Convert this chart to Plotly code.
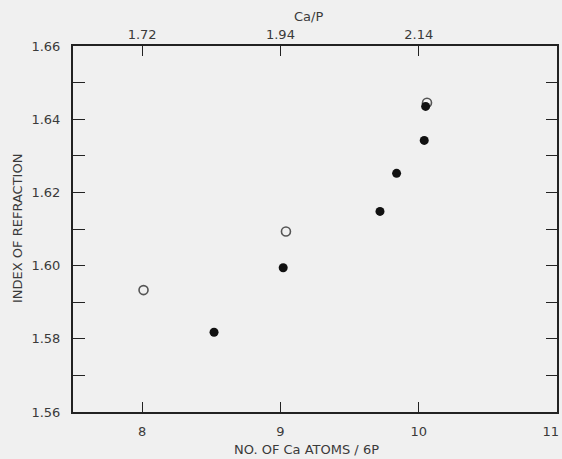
import plotly.graph_objects as go

# Data
open_x = [8.01, 9.04, 10.06]
open_y = [1.5933, 1.6093, 1.6445]
filled_x = [8.52, 9.02, 9.72, 9.84, 10.04, 10.05]
filled_y = [1.5818, 1.5994, 1.6148, 1.6252, 1.6342, 1.6435]

bottom_ticks = [8, 9, 10, 11]
bottom_labels = ["8", "9", "10", "11\u00a0\u00a0\u00a0"]
top_ticks = [8, 9, 10]
top_labels = ["1.72", "1.94", "2.14"]
y_ticks = [1.56, 1.58, 1.60, 1.62, 1.64, 1.66]
y_labels = ["1.56", "1.58", "1.60", "1.62", "1.64", "1.66"]

BG = "#f0f0f0"
INK = "#222222"
TXT = "#3a3a3a"
FONT = "DejaVu Sans"

fig = go.Figure()
fig.add_trace(go.Scatter(
    x=open_x, y=open_y, mode="markers",
    marker=dict(symbol="circle-open", size=9, color="#555555", line=dict(width=1.6)),
    showlegend=False))
fig.add_trace(go.Scatter(
    x=filled_x, y=filled_y, mode="markers",
    marker=dict(symbol="circle", size=9, color="#111111"),
    showlegend=False))
# invisible trace to activate secondary axes
fig.add_trace(go.Scatter(x=[8], y=[1.6], xaxis="x2", yaxis="y2", mode="markers",
                         marker=dict(opacity=0), showlegend=False, hoverinfo="skip"))

fig.update_layout(
    width=562, height=459,
    margin=dict(l=73, r=5, t=46, b=47),
    paper_bgcolor=BG, plot_bgcolor=BG,
    font=dict(family=FONT, size=12, color=TXT),
    xaxis=dict(range=[7.5, 11], tickvals=bottom_ticks, ticktext=bottom_labels,
               ticks="inside", ticklen=10, tickwidth=1, tickcolor=INK,
               showline=True, linecolor=INK, linewidth=2, showgrid=False,
               zeroline=False, tickfont=dict(size=13, color=TXT),
               ticklabelstandoff=6, ticklabeloverflow="allow", automargin=False),
    xaxis2=dict(range=[7.5, 11], overlaying="x", side="top", anchor="y",
                tickvals=top_ticks, ticktext=top_labels,
                ticks="inside", ticklen=10, tickwidth=1, tickcolor=INK,
                showline=True, linecolor=INK, linewidth=1.5, showgrid=False,
                zeroline=False, tickfont=dict(size=13, color=TXT), automargin=False),
    yaxis=dict(range=[1.56, 1.66], tickvals=y_ticks, ticktext=y_labels,
               ticks="inside", ticklen=12, tickwidth=1, tickcolor=INK,
               minor=dict(dtick=0.01, ticks="inside", ticklen=12, tickcolor=INK, tickwidth=1),
               showline=True, linecolor=INK, linewidth=2, showgrid=False,
               zeroline=False, tickfont=dict(size=13, color=TXT),
               ticklabelstandoff=8, automargin=False),
    yaxis2=dict(range=[1.56, 1.66], overlaying="y", side="right", anchor="x",
                dtick=0.01, tick0=1.56, showticklabels=False,
                ticks="inside", ticklen=11, tickwidth=1, tickcolor=INK,
                showline=True, linecolor=INK, linewidth=1.5, showgrid=False,
                zeroline=False, automargin=False),
    annotations=[
        dict(text="Ca/P", x=0.487, y=1.0, xref="paper", yref="paper",
             xanchor="center", yanchor="middle",
             yshift=30, showarrow=False, font=dict(size=13, color=TXT)),
        dict(text="NO. OF Ca ATOMS / 6P", x=0.482, y=0, xref="paper", yref="paper",
             xanchor="center", yanchor="middle",
             yshift=-37, showarrow=False, font=dict(size=13, color=TXT)),
        dict(text="INDEX OF REFRACTION", x=0, y=0.5, xref="paper", yref="paper",
             xanchor="center", yanchor="middle",
             xshift=-56, textangle=-90, showarrow=False, font=dict(size=13, color=TXT)),
    ],
)

fig.write_html(
    "out.html",
    config={"displayModeBar": False},
    post_script="document.body.style.margin='0';document.body.style.background='#f0f0f0';"
                "document.documentElement.style.background='#f0f0f0';",
)
